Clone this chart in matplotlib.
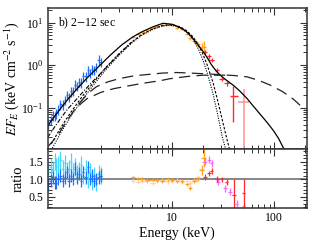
import numpy as np
import matplotlib.pyplot as plt
from matplotlib.ticker import FixedLocator, NullFormatter, FixedFormatter

plt.rcParams['font.family'] = ['Liberation Serif', 'DejaVu Serif']
plt.rcParams['mathtext.fontset'] = 'stix'

# model curves
e_tot = [0.6, 0.7, 0.8, 0.93, 1.05, 1.2, 1.46, 1.83, 2.47, 3.2, 4.1, 5, 6.5, 8.1, 10, 12, 13.8,
         15.5, 17.3, 20, 22, 24, 27, 30, 34, 40, 46, 54, 62, 72, 85, 98, 110, 122, 130]
f_tot = [0.038, 0.062, 0.095, 0.15, 0.21, 0.3, 0.5, 0.85, 1.72, 3.0, 4.6, 6.0, 8.0, 9.6, 9.1, 7.6, 6.1,
         4.6, 3.3, 2.1, 1.5, 1.05, 0.72, 0.56, 0.44, 0.33, 0.245, 0.165, 0.11, 0.072, 0.045, 0.029,
         0.019, 0.0117, 0.009]

e_bb = [0.65, 0.8, 1.0, 1.3, 1.7, 2.2, 3, 4, 5, 6.5, 8, 10, 12, 14, 16, 18, 20, 22, 25, 28, 31, 34, 37]
f_bb1 = [0.01, 0.025, 0.06, 0.15, 0.35, 0.75, 1.7, 3.3, 5.0, 7.0, 8.3, 8.6, 7.5, 5.8, 4.0, 2.4, 1.3,
         0.65, 0.22, 0.065, 0.02, 0.009, 0.004]
f_bb2 = [0.014, 0.033, 0.075, 0.18, 0.4, 0.85, 1.85, 3.5, 5.2, 7.2, 8.5, 8.9, 7.9, 6.3, 4.6, 3.0, 1.8,
         1.0, 0.4, 0.14, 0.05, 0.02, 0.009]

e_dd = [0.6, 0.7, 0.8, 0.93, 1.1, 1.3, 1.6, 2.0, 2.5, 3.0, 4.0]
f_dd = [0.02, 0.035, 0.055, 0.09, 0.14, 0.22, 0.38, 0.65, 1.15, 1.8, 3.5]

e_pl1 = [1.2, 1.5, 1.8, 2.3, 3, 4.2, 5.65, 8, 11, 15, 25, 40, 54, 70, 91, 120, 153, 200]
f_pl1 = [0.12, 0.22, 0.31, 0.40, 0.48, 0.56, 0.60, 0.65, 0.67, 0.65, 0.61, 0.57, 0.53, 0.44, 0.34,
         0.24, 0.16, 0.09]
e_pl2 = [0.6, 0.75, 0.9, 1.1, 1.3, 1.46, 2, 2.67, 3.34, 5, 7.6, 9.5, 14, 20, 27, 36]
f_pl2 = [0.012, 0.022, 0.045, 0.09, 0.13, 0.163, 0.23, 0.28, 0.31, 0.37, 0.43, 0.48, 0.54, 0.58,
         0.58, 0.58]

# soft band data
e_soft = [0.61, 0.64, 0.67, 0.70, 0.73, 0.76, 0.80, 0.84, 0.88, 0.92, 0.96, 1.01, 1.06, 1.11, 1.16,
          1.22, 1.28, 1.34, 1.41, 1.48, 1.55, 1.63, 1.71, 1.80, 1.89, 1.98]
f_soft = [0.042, 0.052, 0.066, 0.064, 0.074, 0.09, 0.12, 0.118, 0.15, 0.2, 0.18, 0.24, 0.25, 0.35,
          0.32, 0.4, 0.39, 0.55, 0.54, 0.78, 0.66, 0.8, 0.78, 0.9, 1.35, 1.18]
r_blue = [0.85, 0.95, 1.05, 0.9, 0.9, 1.0, 1.1, 0.95, 1.05, 1.2, 0.95, 1.1, 1.0, 1.3, 1.05, 1.15,
          0.95, 1.2, 1.05, 1.35, 1.0, 1.1, 0.95, 1.0, 1.05, 1.1]
r_cyan = [1.2, 1.35, 1.25, 1.5, 1.35, 1.4, 1.55, 1.3, 1.45, 1.25, 1.3, 1.5, 1.2, 1.35, 1.15, 1.25,
          1.4, 1.1, 1.3, 1.0, 1.2, 0.95, 1.1, 0.9, 1.15, 1.1]

# mid band data
e_mid = [4.1, 4.6, 5.1, 5.7, 6.4, 7.1, 8.0, 9.0, 10.0, 11.2, 12.5, 13.9, 14.9, 16.5, 18.0, 19.4, 20.3]
f_mid = [4.7, 5.3, 6.0, 6.6, 7.6, 8.2, 8.8, 9.3, 8.8, 7.6, 6.9, 5.4, 4.3, 3.7, 3.1, 2.7, 2.7]
r_orange = [1.05, 1.02, 1.0, 0.97, 0.98, 0.96, 0.95, 1.0, 0.97, 0.93, 0.95, 0.85, 0.75, 0.95, 1.0,
            1.26, 1.6]
r_peach = [0.95, 0.92, 0.95, 0.93, 0.9, 0.95, 0.97, 0.93, 0.95, 0.98, 0.92, 0.95, 0.9, 0.97, 1.05,
           1.3, 1.5]

# hard band data
e_hard = [21.0, 22.8, 24.3, 27.3, 30.5, 34.0, 39.6]
f_hard = [2.06, 1.6, 1.31, 0.76, 0.48, 0.37, 0.185]
e_hard2 = [50.0]
f_hard2 = [0.136]
e_rred = [21.0, 22.8, 24.3, 27.3, 30.5, 34.0, 40.5, 50.0]
r_red = [1.05, 1.16, 1.23, 1.0, 0.99, 0.92, 0.54, 0.61]
e_rpink = [21.0, 22.8, 24.3, 28.2, 32.8, 36.8, 42.8, 50.0]
r_pink = [1.49, 1.55, 1.45, 0.92, 0.73, 0.63, 0.3, 0.22]

c_blue = '#1f6fff'
c_cyan = '#3fd8ff'
c_orange = '#ffa020'
c_peach = '#ffd2a8'
c_red = '#ff2a2a'
c_pink = '#ff66ff'
c_pinkred = '#ff9a9a'
frame = '#333333'

fig = plt.figure(figsize=(3.16, 2.42), dpi=100)
ax1 = fig.add_axes([0.151, 0.383, 0.8196, 0.584])
ax2 = fig.add_axes([0.151, 0.1417, 0.8196, 0.2413], sharex=ax1)


def xe(e, frac):
    e = np.array(e)
    return [e * frac, e * frac]


def eb(ax, e, y, yerr, color, frac=0.025, lw=0.9):
    ax.errorbar(e, y, xerr=xe(e, frac), yerr=yerr, fmt='none', ecolor=color, elinewidth=lw,
                capsize=0)


f_soft = np.array(f_soft)
eb(ax1, e_soft, f_soft, [f_soft * 0.25, f_soft * 0.25], c_blue)
f_mid = np.array(f_mid)
mid_err = [0.25, 0.25, 0.25, 0.25, 0.3, 0.3, 0.35, 0.35, 0.35, 0.35, 0.35, 0.35, 0.35, 0.45, 0.45,
           0.6, 0.9]
eb(ax1, e_mid, f_mid, mid_err, c_orange, frac=0.05)
f_hard = np.array(f_hard)
eb(ax1, e_hard[:-1], f_hard[:-1], [f_hard[:-1] * 0.12, f_hard[:-1] * 0.12], c_red, frac=0.05)
ax1.errorbar(e_hard[-1:], f_hard[-1:], xerr=[[2.9], [4.8]], yerr=[[0.14], [0.13]], fmt='none',
             ecolor=c_red, elinewidth=1.0, capsize=0)
ax1.errorbar(e_hard2, f_hard2, xerr=[[5.7], [6.9]], yerr=[[0.131], [0.134]], fmt='none',
             ecolor=c_pinkred, elinewidth=1.2, capsize=0)

ax1.plot(e_tot, f_tot, color='black', lw=0.9)
ax1.plot(e_bb, f_bb1, color='black', lw=0.8, ls=(0, (1, 1.2)))
ax1.plot(e_bb, f_bb2, color='black', lw=0.8, ls=(0, (2.2, 1.5)))
ax1.plot(e_dd, f_dd, color='black', lw=0.8, ls=(0, (4, 1.5, 1, 1.5)))
ax1.plot(e_pl1, f_pl1, color='#222222', lw=0.9, ls=(0, (9, 5)))
ax1.plot(e_pl2, f_pl2, color='#222222', lw=0.9, ls=(0, (9, 5)))

ax1.set_xscale('log')
ax1.set_yscale('log')
ax1.set_xlim(0.6, 208)
ax1.set_ylim(0.0105, 22)
ax1.text(0.04, 0.895, 'b) 2$-$12 sec', transform=ax1.transAxes, fontsize=8.5, va='center')
ax1.set_ylabel('$EF_E$ (keV cm$^{-2}$ s$^{-1}$)', fontsize=10, labelpad=0)

# ratio panel
eb(ax2, e_soft, r_cyan, 0.25, c_cyan)
eb(ax2, e_soft, r_blue, 0.18, c_blue)
eb(ax2, e_mid, r_peach, 0.06, c_peach, frac=0.05)
eb(ax2, e_mid, r_orange, [0.05] * 15 + [0.15, 0.25], c_orange, frac=0.05)
eb(ax2, e_rpink, r_pink, 0.1, c_pink, frac=0.04)
eb(ax2, e_rred, r_red, [0.08] * 6 + [0.45, 0.4], c_red, frac=0.04)
ax2.axhline(1.0, color='#666666', lw=1.1, zorder=0)
ax2.set_ylim(0.18, 1.85)
ax2.set_ylabel('ratio', fontsize=10.5, labelpad=3)
ax2.set_xlabel('Energy (keV)', fontsize=10, labelpad=2)

for ax in (ax1, ax2):
    for s in ax.spines.values():
        s.set_color(frame)
        s.set_linewidth(1.1)
    ax.tick_params(which='both', direction='in', top=True, right=True, color=frame,
                   labelsize=8.5, pad=3)
    ax.tick_params(which='major', length=5, width=0.8)
    ax.tick_params(which='minor', length=2.8, width=0.7)
    ax.xaxis.set_major_locator(FixedLocator([10, 100]))
    ax.xaxis.set_minor_locator(FixedLocator([2, 3, 4, 5, 6, 7, 8, 9, 20, 30, 40, 50, 60, 70, 80, 90, 200]))
    ax.xaxis.set_minor_formatter(NullFormatter())

ax1.tick_params(labelbottom=False)
ax2.xaxis.set_major_formatter(FixedFormatter(['10', '100']))
ax2.set_yticks([0.5, 1.0, 1.5])
ax2.set_yticklabels(['0.5', '1.0', '1.5'])
ax2.set_yticks(np.arange(0.2, 1.85, 0.1), minor=True)

fig.savefig('out.png', dpi=100)
